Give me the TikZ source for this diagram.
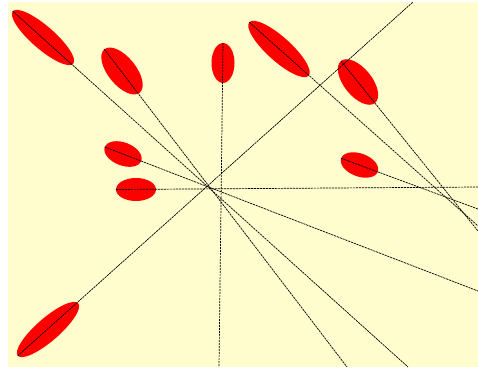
\documentclass[tikz,border=0pt]{standalone}
\usetikzlibrary{shapes.geometric}
\definecolor{paper}{RGB}{255,252,205}
\definecolor{petalred}{RGB}{255,0,0}
\tikzset{
  petal/.style={ellipse,fill=petalred,draw=none,inner sep=0pt},
  axisline/.style={black,line width=0.7pt,dash pattern=on 2.2pt off 0.8pt}
}
\newcommand{\petal}[5]{%
  \node[petal,rotate=#3,minimum width=#4pt,minimum height=#5pt] (#1) at (#2) {};
}

\begin{document}
\begin{tikzpicture}[x=1pt,y=-1pt]
  \useasboundingbox (0,0) rectangle (478,367);
  \fill[paper] (8,2) rectangle (478,367);
  \petal{e1}{43,37.5}{-41}{80}{23}
  \petal{e2}{122,71}{-51}{56}{28}
  \petal{e3}{123,154}{-21}{39}{23}
  \petal{e4}{136,189.5}{0}{40}{23}
  \petal{e5}{223,63}{-90}{40}{23}
  \petal{e6}{48,329.5}{41}{80}{23}
  \petal{e7}{279,49}{-42}{80}{24}
  \petal{e8}{358,82}{-51}{54}{28}
  \petal{e9}{359.5,165}{-20}{39}{23}
  % far ends on the frame
  \coordinate (f1) at (408,367);
  \coordinate (f2) at (347,367);
  \coordinate (f3) at (478,291);
  \coordinate (f4) at (478,187);
  \coordinate (f5) at (219,367);
  \coordinate (f6) at (413,2);
  \coordinate (f7) at (478,226);
  \coordinate (f8) at (478,231);
  \coordinate (f9) at (478,209);
  \foreach \i in {1,...,9}
    \draw[axisline] (e\i.west) -- (f\i);
\end{tikzpicture}
\end{document}
